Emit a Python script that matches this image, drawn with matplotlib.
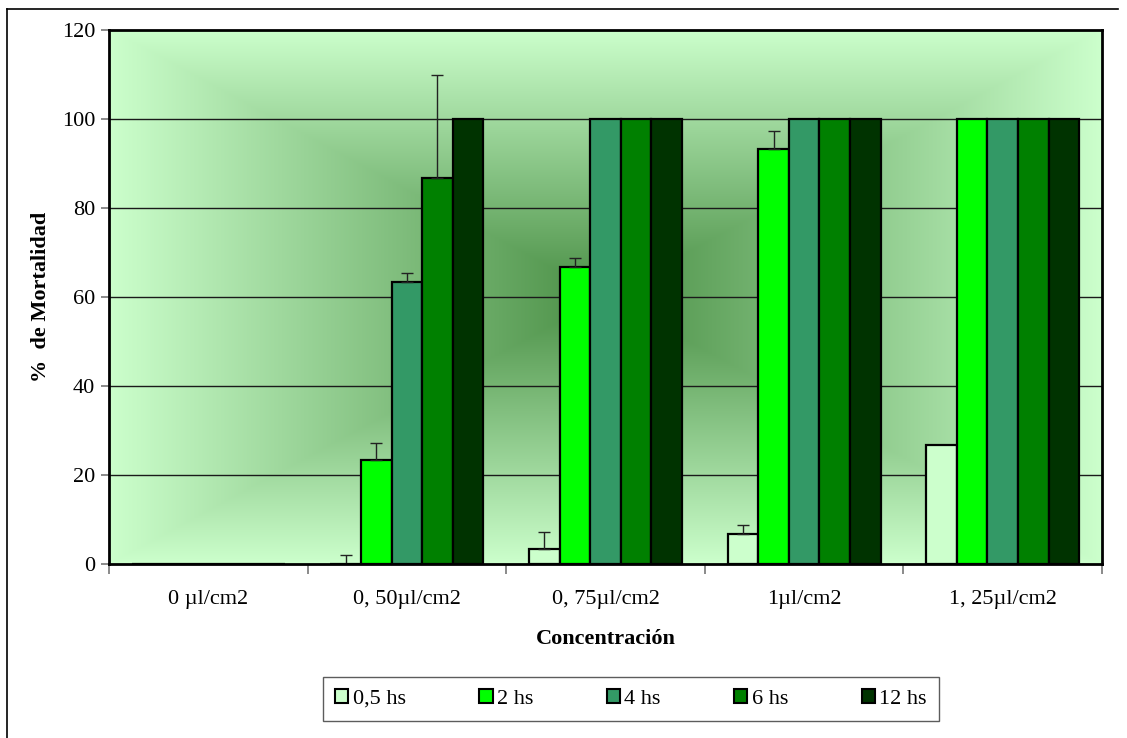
import numpy as np
import matplotlib.pyplot as plt
from matplotlib.patches import Patch
from matplotlib.lines import Line2D

plt.rcParams['font.family'] = ['Liberation Serif', 'DejaVu Serif']

categories = ['0 µl/cm2', '0, 50µl/cm2', '0, 75µl/cm2', '1µl/cm2', '1, 25µl/cm2']
series = ['0,5 hs', '2 hs', '4 hs', '6 hs', '12 hs']
values = {
    '0,5 hs': [0, 0, 3.3, 6.7, 26.7],
    '2 hs': [0, 23.3, 66.7, 93.3, 100],
    '4 hs': [0, 63.3, 100, 100, 100],
    '6 hs': [0, 86.7, 100, 100, 100],
    '12 hs': [0, 100, 100, 100, 100],
}
errors = {
    '0,5 hs': [0, 2.1, 3.9, 2.0, 0],
    '2 hs': [0, 3.9, 2.0, 4.0, 0],
    '4 hs': [0, 2.0, 0, 0, 0],
    '6 hs': [0, 23.1, 0, 0, 0],
    '12 hs': [0, 0, 0, 0, 0],
}
colors = ['#CCFFCC', '#00FF00', '#339966', '#008000', '#003300']

fig = plt.figure(figsize=(11.27, 7.38), dpi=100)
ax = fig.add_axes([109 / 1127, 174 / 738, 993 / 1127, 534 / 738])

# outer chart border (left and top visible)
fig.add_artist(Line2D([7 / 1127, 7 / 1127], [0, 1 - 9 / 738], color='black', lw=1.2))
fig.add_artist(Line2D([7 / 1127, 1118 / 1127], [1 - 9 / 738, 1 - 9 / 738], color='black', lw=1.2))

# rectangular "from center" gradient background
n = 400
u = np.linspace(0, 1, n)
U, V = np.meshgrid(u, u)
t = np.maximum(np.abs(2 * U - 1), np.abs(2 * V - 1))
center = np.array([0.29, 0.56, 0.27])
edge = np.array([0.80, 1.0, 0.80])
img = center + (edge - center) * t[..., None]
ax.imshow(img, extent=[0, 1, 0, 1], transform=ax.transAxes, aspect='auto',
          zorder=0, interpolation='bilinear')

x = np.arange(len(categories))
w = 0.154
for i, s in enumerate(series):
    pos = x + (i - 2) * w
    ax.bar(pos, values[s], width=w, color=colors[i], edgecolor='black',
           linewidth=1.6, zorder=3)
    err = np.array(errors[s])
    mask = err > 0
    ax.errorbar(pos[mask], np.array(values[s])[mask],
                yerr=[np.zeros(mask.sum()), err[mask]], fmt='none',
                ecolor='#222222', elinewidth=1.0, capsize=4.5, capthick=1.0,
                zorder=4)

ax.set_xlim(-0.5, 4.5)
ax.set_ylim(0, 120)
ax.set_yticks(range(0, 121, 20))
for yv in range(20, 101, 20):
    ax.axhline(yv, color='#1a1a1a', lw=1.0, zorder=1)

fs = 16
ax.set_xticks(x)
ax.set_xticklabels(categories, fontsize=fs)
ax.tick_params(axis='x', length=0, pad=19)
ax.set_xticks(np.arange(-0.5, 5, 1), minor=True)
ax.tick_params(axis='x', which='minor', length=7, color='#777777', width=1.2)
ax.tick_params(axis='y', labelsize=fs, length=6, color='#777777', width=1.2, pad=4)
for sp in ax.spines.values():
    sp.set_linewidth(2)
    sp.set_color('black')
    sp.set_zorder(5)

ax.set_xlabel('Concentración', fontsize=fs, fontweight='bold', labelpad=14)
ax.set_ylabel('%  de Mortalidad', fontsize=fs, fontweight='bold', labelpad=8)

handles = [Patch(facecolor=c, edgecolor='black', linewidth=1.5) for c in colors]
leg = fig.legend(handles, series, loc='center', bbox_to_anchor=(631 / 1127, 1 - 699 / 738),
                 ncol=5, fontsize=fs, frameon=True, fancybox=False,
                 handlelength=0.6, handleheight=0.6, handletextpad=0.2,
                 columnspacing=3.3, borderpad=0.55)
leg.get_frame().set_edgecolor('#333333')
leg.get_frame().set_linewidth(1.0)

fig.savefig('out.png', dpi=100)
